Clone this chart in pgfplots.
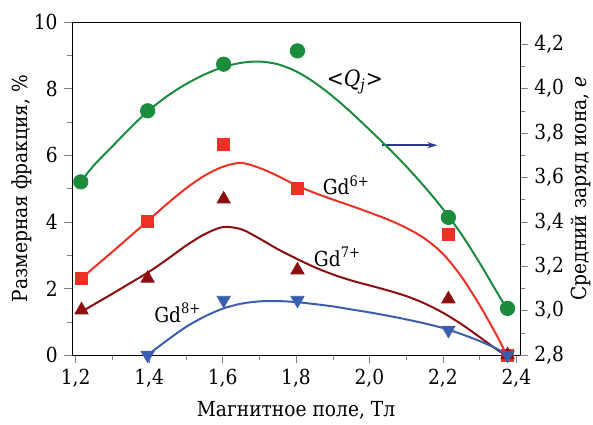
\documentclass[border=0pt]{standalone}
\usepackage{fontspec}
\setmainfont{DejaVu Serif Condensed}[Scale=0.9]
\usepackage{pgfplots}
\pgfplotsset{compat=1.18}
\usetikzlibrary{arrows.meta}

\definecolor{cgreen}{RGB}{26,140,60}
\definecolor{cred}{RGB}{238,49,36}
\definecolor{cdark}{RGB}{140,14,14}
\definecolor{cblue}{RGB}{58,95,176}
\definecolor{cnavy}{RGB}{43,57,144}

\pgfplotsset{
  common/.style={
    scale only axis, width=224pt, height=166.5pt,
    xmin=1.19, xmax=2.41,
    tick align=outside,
    major tick length=4pt, minor tick length=2.5pt,
    /pgf/number format/assume math mode=true,
    clip=false,
  },
}

\begin{document}
\begin{tikzpicture}[font=\rmfamily\fontsize{11.5}{13}\selectfont]
\begin{axis}[common,
    ymin=0, ymax=10,
    xtick={1.2,1.4,1.6,1.8,2.0,2.2,2.4}, minor x tick num=1,
    ytick={0,2,4,6,8,10}, minor y tick num=1,
    xtick pos=bottom, ytick pos=left,
    xticklabel style={/pgf/number format/.cd, fixed, fixed zerofill, precision=1, use comma},
    xlabel={Магнитное поле, Тл},
    ylabel={Размерная фракция, \%},
    xlabel style={at={(rel axis cs:0.5,-0.165)}, anchor=center},
    ylabel style={at={(rel axis cs:-0.112,0.5)}, anchor=center},
  ]
  \coordinate (bl) at (rel axis cs:0,0);
  \coordinate (tr) at (rel axis cs:1,1);

  % fitted curves
  \addplot[cred, line width=1pt, smooth, no marks] coordinates {
    (1.216,2.3)(1.25,2.63)(1.30,3.1)(1.35,3.58)(1.40,4.06)(1.45,4.55)(1.50,5.0)
    (1.55,5.38)(1.60,5.65)(1.65,5.77)(1.70,5.62)(1.75,5.38)(1.80,5.1)(1.85,4.87)
    (1.90,4.67)(1.95,4.48)(2.0,4.28)(2.05,4.07)(2.10,3.82)(2.15,3.5)(2.20,3.04)
    (2.25,2.36)(2.30,1.5)(2.35,0.52)(2.373,0)};
  \addplot[cdark, line width=1pt, smooth, no marks] coordinates {
    (1.216,1.3)(1.25,1.52)(1.30,1.84)(1.35,2.17)(1.40,2.5)(1.45,2.88)(1.50,3.28)
    (1.55,3.62)(1.60,3.84)(1.65,3.78)(1.70,3.5)(1.75,3.18)(1.80,2.9)(1.85,2.64)
    (1.90,2.42)(1.95,2.24)(2.0,2.09)(2.05,1.94)(2.10,1.77)(2.15,1.55)(2.20,1.27)
    (2.25,0.93)(2.30,0.54)(2.35,0.14)(2.373,0)};
  \addplot[cblue, line width=1pt, smooth, no marks] coordinates {
    (1.396,0)(1.45,0.45)(1.50,0.84)(1.55,1.15)(1.60,1.39)(1.65,1.54)(1.70,1.61)
    (1.75,1.62)(1.80,1.59)(1.85,1.53)(1.90,1.46)(1.95,1.37)(2.0,1.28)(2.05,1.18)
    (2.10,1.07)(2.15,0.95)(2.20,0.81)(2.25,0.63)(2.30,0.42)(2.35,0.17)(2.373,0)};

  % measured points
  \addplot[only marks, mark=square*, mark size=3pt, cred] coordinates {
    (1.216,2.3)(1.396,4.0)(1.603,6.33)(1.804,5.0)(2.215,3.63)(2.376,0)};
  \addplot[only marks, mark=triangle*, mark size=3.8pt, cdark] coordinates {
    (1.216,1.35)(1.396,2.3)(1.603,4.68)(1.804,2.55)(2.215,1.68)(2.376,0)};
  \addplot[only marks, mark=triangle*, mark size=3.8pt, cblue,
    mark options={rotate=180}] coordinates {
    (1.396,0)(1.603,1.65)(1.804,1.65)(2.215,0.75)(2.376,0)};

  \node at (axis cs:1.937,5.1) {Gd\textsuperscript{6+}};
  \node at (axis cs:1.913,2.94) {Gd\textsuperscript{7+}};
  \node at (axis cs:1.478,1.26) {Gd\textsuperscript{8+}};
  \node[font=\rmfamily\fontsize{12.5}{14}\selectfont] at (axis cs:1.96,8.2)
    {<\textit{Q}\textsubscript{\textit{j}}>};
  \draw[cnavy, line width=0.8pt, -{Stealth[length=5pt,width=3pt]}]
    (axis cs:2.035,6.3) -- (axis cs:2.185,6.3);
\end{axis}

\begin{axis}[common,
    ymin=2.8, ymax=4.3,
    axis x line=none, axis y line*=right,
    ytick={2.8,3.0,3.2,3.4,3.6,3.8,4.0,4.2}, minor y tick num=1,
    yticklabel style={/pgf/number format/.cd, fixed, fixed zerofill, precision=1, use comma},
    ylabel={Средний заряд иона, \textit{e}},
    ylabel style={at={(rel axis cs:1.135,0.5)}, anchor=center},
  ]
  \addplot[cgreen, line width=1pt, smooth, no marks] coordinates {
    (1.214,3.581)(1.25,3.655)(1.30,3.74)(1.35,3.825)(1.40,3.903)(1.45,3.967)
    (1.50,4.02)(1.55,4.063)(1.60,4.096)(1.65,4.116)(1.70,4.122)(1.75,4.11)
    (1.80,4.078)(1.85,4.028)(1.90,3.965)(1.95,3.893)(2.0,3.815)(2.05,3.735)
    (2.10,3.65)(2.15,3.558)(2.20,3.458)(2.25,3.345)(2.30,3.215)(2.35,3.075)(2.373,3.012)};
  \addplot[only marks, mark=*, mark size=3.6pt, cgreen] coordinates {
    (1.214,3.58)(1.396,3.90)(1.603,4.11)(1.804,4.17)(2.215,3.42)(2.376,3.01)};
\end{axis}

\pgfresetboundingbox
\path[use as bounding box] ([xshift=-36pt,yshift=-34.5pt]bl) rectangle ([xshift=36.5pt,yshift=11pt]tr);
\end{tikzpicture}
\end{document}
